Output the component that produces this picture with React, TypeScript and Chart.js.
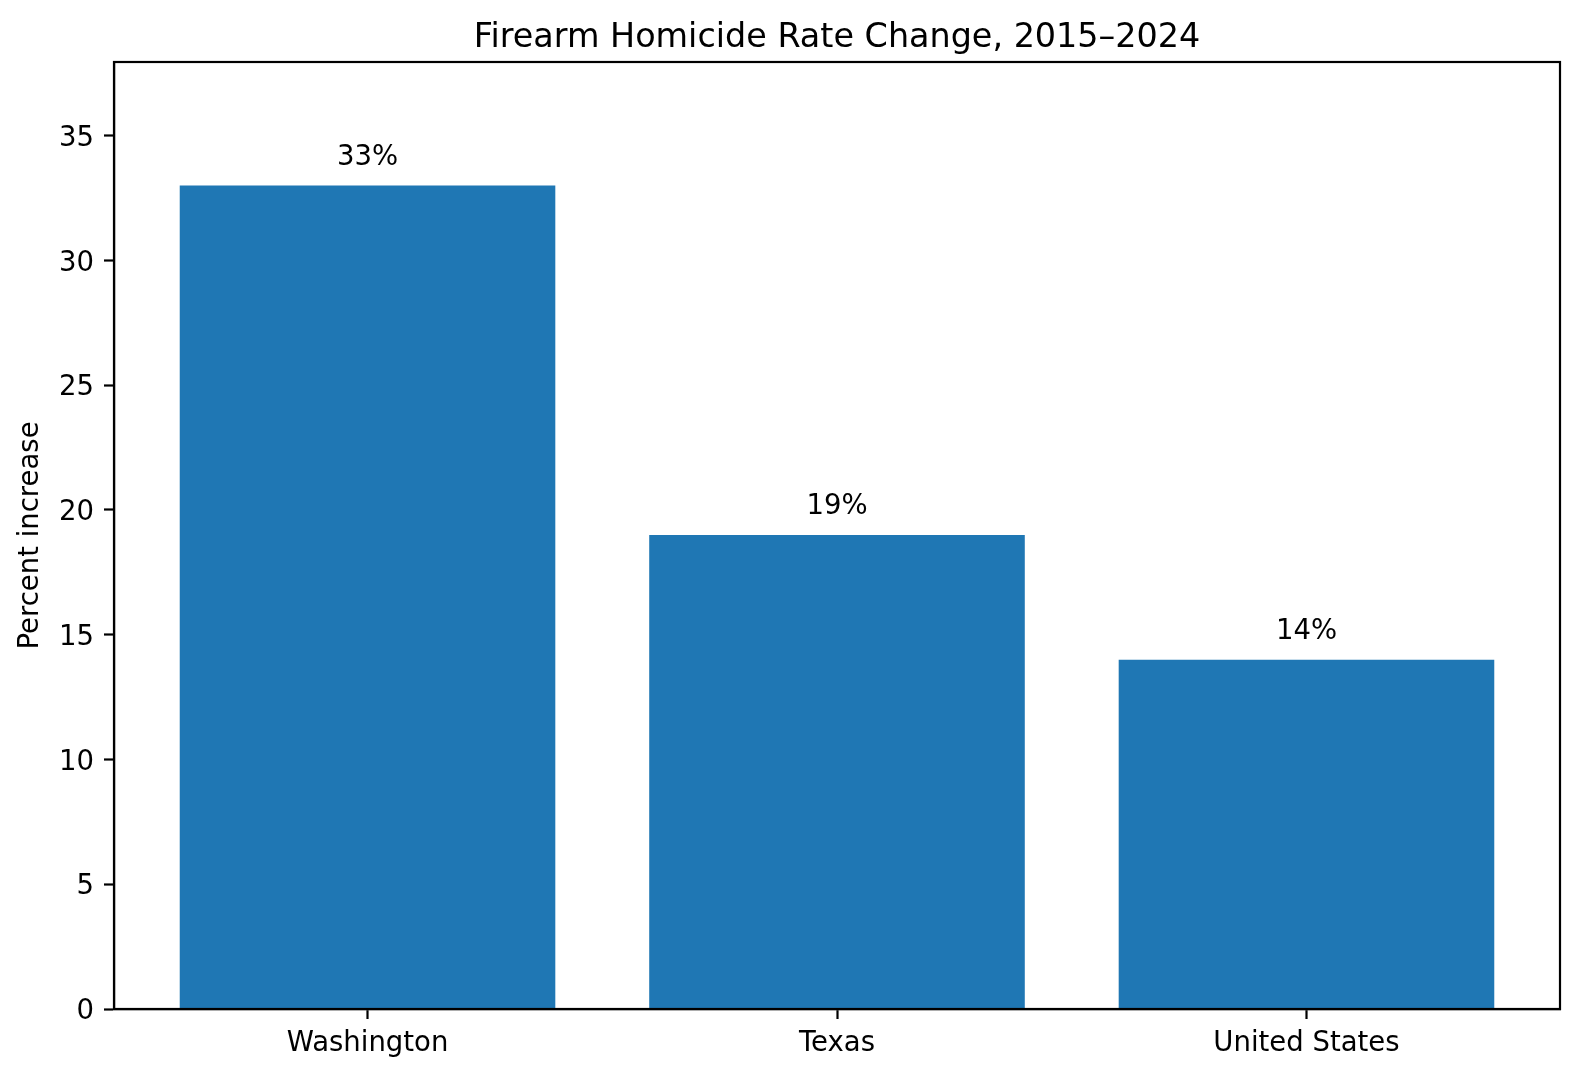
import { useRef, useEffect } from 'react';
import { Chart, registerables, Plugin } from 'chart.js';

Chart.register(...registerables);

const categories = ['Washington', 'Texas', 'United States'];
const percentIncrease = [33, 19, 14];
const yTicks = [0, 5, 10, 15, 20, 25, 30, 35];
const title = 'Firearm Homicide Rate Change, 2015\u20132024';
const yTitle = 'Percent increase';

const FONT = '"DejaVu Sans", sans-serif';

const overlay: Plugin<'bar'> = {
    id: 'overlay',
    afterDraw(chart) {
        const { ctx, chartArea } = chart;
        ctx.save();
        // axes box on all four sides
        ctx.strokeStyle = '#000';
        ctx.lineWidth = 2.2;
        ctx.strokeRect(chartArea.left, chartArea.top, chartArea.right - chartArea.left, chartArea.bottom - chartArea.top);

        ctx.fillStyle = '#000';
        ctx.textAlign = 'center';
        ctx.textBaseline = 'alphabetic';
        ctx.font = `33.4px ${FONT}`;
        ctx.fillText(title, (chartArea.left + chartArea.right) / 2, 47);

        ctx.font = `27.5px ${FONT}`;
        const meta = chart.getDatasetMeta(0);
        meta.data.forEach((bar, i) => {
            ctx.fillText(`${percentIncrease[i]}%`, bar.x, bar.y - 21);
        });
        ctx.restore();
    },
};

const App = () => {
    const canvasRef = useRef<HTMLCanvasElement | null>(null);
    const chartRef = useRef<Chart<'bar'> | null>(null);

    useEffect(() => {
        document.body.style.margin = '0';
        if (!canvasRef.current) return;
        const ctx = canvasRef.current.getContext('2d');
        if (!ctx) return;

        chartRef.current = new Chart(ctx, {
            type: 'bar',
            data: {
                datasets: [
                    {
                        data: percentIncrease.map((v, i) => ({ x: i, y: v })),
                        backgroundColor: '#1f77b4',
                        barPercentage: 0.8,
                        categoryPercentage: 1,
                    },
                ],
            },
            options: {
                animation: false,
                responsive: false,
                devicePixelRatio: 1,
                layout: { padding: { left: 0, top: 62, right: 20, bottom: 0 } },
                plugins: {
                    legend: { display: false },
                    tooltip: { enabled: false },
                },
                scales: {
                    x: {
                        type: 'linear',
                        min: -0.54,
                        max: 2.54,
                        offset: false,
                        grid: {
                            offset: false,
                            drawOnChartArea: false,
                            drawTicks: true,
                            tickLength: 10,
                            tickWidth: 2.2,
                            tickColor: '#000',
                        },
                        border: { display: true, color: '#000', width: 2.2 },
                        ticks: {
                            color: '#000',
                            padding: 8,
                            font: { family: FONT, size: 27.5 },
                            maxRotation: 0,
                            callback: (value) => categories[Number(value)] ?? '',
                        },
                        afterBuildTicks: (scale) => {
                            scale.ticks = categories.map((_, i) => ({ value: i }));
                        },
                        afterFit: (scale) => {
                            scale.height = 68;
                        },
                    },
                    y: {
                        min: 0,
                        max: 37.95,
                        grid: {
                            drawOnChartArea: false,
                            drawTicks: true,
                            tickLength: 10,
                            tickWidth: 2.2,
                            tickColor: '#000',
                        },
                        border: { display: true, color: '#000', width: 2.2 },
                        ticks: {
                            color: '#000',
                            padding: 10,
                            labelOffset: 3,
                            font: { family: FONT, size: 27.5 },
                        },
                        afterBuildTicks: (scale) => {
                            scale.ticks = yTicks.map((v) => ({ value: v }));
                        },
                        afterFit: (scale) => {
                            scale.width = 114;
                        },
                        title: {
                            display: true,
                            text: yTitle,
                            color: '#000',
                            font: { family: FONT, size: 27.5 },
                            padding: { top: 14, bottom: 0 },
                        },
                    },
                },
            },
            plugins: [overlay],
        });

        return () => {
            chartRef.current?.destroy();
        };
    }, []);

    return <canvas ref={canvasRef} width={1580} height={1077} />;
};

export default App;
